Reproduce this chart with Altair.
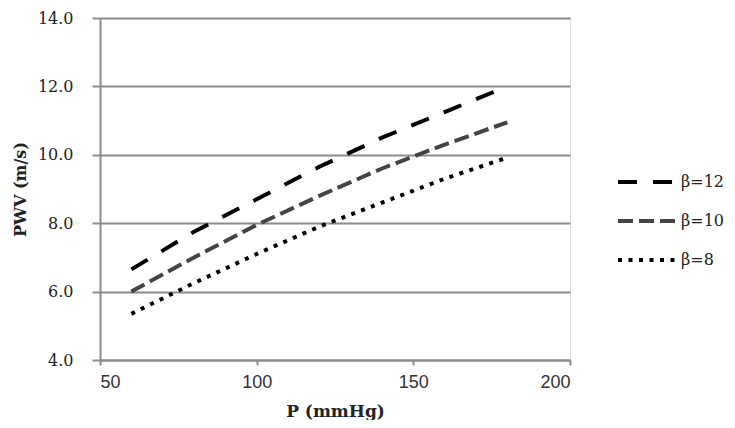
import altair as alt
import pandas as pd

pressure = [60, 80, 100, 120, 140, 160, 180]
pwv_b12 = [6.65, 7.75, 8.7, 9.65, 10.5, 11.25, 12.0]
pwv_b10 = [6.0, 7.0, 7.95, 8.8, 9.6, 10.3, 10.95]
pwv_b8 = [5.35, 6.25, 7.1, 7.9, 8.6, 9.3, 9.92]
series = ["β=12", "β=10", "β=8"]
colors = ["#000000", "#444444", "#000000"]
dashes = [[19, 16], [15, 6], [4, 6.5]]
x_ticks = [50, 100, 150, 200]
y_ticks = [4, 6, 8, 10, 12, 14]

rows = []
for name, vals in zip(series, [pwv_b12, pwv_b10, pwv_b8]):
    for p, v in zip(pressure, vals):
        rows.append({"P": p, "PWV": v, "series": name})
df = pd.DataFrame(rows)

legend = alt.Legend(
    title=None,
    orient="none",
    legendX=516,
    legendY=133,
    symbolType="stroke",
    symbolSize=3364,
    symbolStrokeWidth=4,
    labelFont="DejaVu Serif",
    labelFontSize=16,
    labelColor="#222222",
    labelOffset=3,
    rowPadding=0,
)

chart = alt.Chart(df).mark_line(strokeWidth=4, strokeCap="butt").encode(
    x=alt.X(
        "P:Q",
        scale=alt.Scale(domain=[50, 200], nice=False, zero=False),
        axis=alt.Axis(
            values=x_ticks, title="P (mmHg)", grid=False,
            labelFont="Liberation Sans", labelFontSize=18, labelColor="#333333",
            labelPadding=8, tickSize=5, tickWidth=2, tickColor="#8c8c8c",
            domainColor="#8c8c8c", domainWidth=2,
            titleFont="DejaVu Serif", titleFontSize=17, titleFontWeight="bold",
            titleColor="#222222", titlePadding=12,
        ),
    ),
    y=alt.Y(
        "PWV:Q",
        scale=alt.Scale(domain=[4, 14], nice=False, zero=False),
        axis=alt.Axis(
            values=y_ticks, format=".1f", title="PWV (m/s)", grid=True,
            gridColor="#8c8c8c", gridWidth=2,
            labelFont="DejaVu Serif", labelFontSize=16, labelColor="#222222",
            labelPadding=19, tickSize=8, tickWidth=2, tickColor="#8c8c8c",
            domainColor="#8c8c8c", domainWidth=2,
            titleFont="DejaVu Serif", titleFontSize=16, titleFontWeight="bold",
            titleColor="#222222", titlePadding=9,
        ),
    ),
    color=alt.Color("series:N", scale=alt.Scale(domain=series, range=colors), legend=legend),
    strokeDash=alt.StrokeDash("series:N", scale=alt.Scale(domain=series, range=dashes), legend=legend),
).properties(
    width=470,
    height=342,
    autosize=alt.AutoSizeParams(type="none"),
    padding={"left": 92, "top": 10, "right": 157, "bottom": 60},
).configure_view(stroke=None).configure(background="white")

chart.save("out.html", embed_options={"renderer": "svg", "actions": False})
